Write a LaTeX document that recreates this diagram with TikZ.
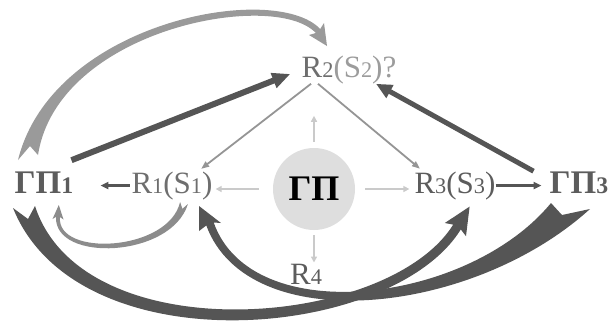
\documentclass[tikz,border=0pt]{standalone}
\usepackage{fontspec}
\setmainfont{Liberation Serif}
\usetikzlibrary{arrows.meta}
\definecolor{bandDark}{HTML}{555555}
\definecolor{bandGray}{HTML}{9A9A9A}
\definecolor{loopGray}{HTML}{8C8C8C}
\definecolor{slimGray}{HTML}{959595}
\definecolor{paleGray}{HTML}{CACACA}
\definecolor{discGray}{HTML}{DEDEDE}
\definecolor{txtDark}{HTML}{5C5C5C}
\definecolor{txtMid}{HTML}{6E6E6E}
\definecolor{txtLight}{HTML}{9C9C9C}
\newcommand{\ix}[1]{\scalebox{0.72}{#1}}

\begin{document}
\begin{tikzpicture}[x=1pt, y=-1pt,
    lbl/.style={inner sep=0pt, anchor=base, font=\fontsize{31}{36}\selectfont},
    bigtxt/.style={lbl, font=\fontsize{33}{38}\selectfont\bfseries},
    palearrow/.style={draw=paleGray, line width=2pt, -{Triangle[length=6pt,width=6pt]}},
    slimarrow/.style={draw=slimGray, line width=1.8pt, -{Triangle[length=8pt,width=6pt]}},
    heavyarrow/.style={draw=bandDark, -{Triangle[length=18pt,width=15pt]}},
    stubarrow/.style={draw=bandDark, line width=2.5pt, -{Triangle[length=8pt,width=7pt]}}]
    \useasboundingbox (0,0) rectangle (611,325);

    % tapered bands
    \fill[bandGray] (18,160) .. controls (52.4,21.3) and (275.1,-19) .. (320.2,29)
        -- (324,23) -- (327,46) -- (309,35) -- (315.8,33)
        .. controls (274.9,-11) and (57.6,28.7) .. (38,155) -- (30,146) -- cycle;
    \fill[loopGray] (187.9,204) .. controls (171.4,258.2) and (54,262.8) .. (56,216.9)
        -- (52.5,219) -- (58.8,205) -- (63.5,219.5) -- (60,217.1)
        .. controls (56,257.2) and (168.6,251.8) .. (180.1,202) -- (182.4,208.8) -- cycle;
    \fill[bandDark] (13,208) .. controls (77.4,367.6) and (392,340.7) .. (460.8,229.4)
        -- (466,236.2) -- (469.6,206.6) -- (444.8,223) -- (453.2,224.6)
        .. controls (388,329.3) and (82.6,352.4) .. (35,206) -- (28,219) -- cycle;
    \fill[bandDark] (590,209) .. controls (472,316) and (248.4,339) .. (206.3,225.5)
        -- (199,231) -- (199,206) -- (221,223) -- (213.7,222.5)
        .. controls (251.6,330) and (468,304) .. (551,203) -- (562,215) -- cycle;

    \node[bigtxt, text=txtDark] (G1) at (44,193) {ГП\ix{1}};
    \node[lbl, text=txtMid] (R1) at (172,193) {R\ix{1}(S\ix{1})};
    \node[lbl] (R2) at (349,77) {\textcolor{txtMid}{R\ix{2}}\textcolor{txtLight}{(S\ix{2})?}};
    \node[lbl, text=txtDark] (R3) at (455,193) {R\ix{3}(S\ix{3})};
    \node[bigtxt, text=txtDark] (G3) at (579,193) {ГП\ix{3}};
    \node[lbl, text=txtDark] (R4) at (306,284) {R\ix{4}};
    \node[circle, fill=discGray, minimum size=82pt, inner sep=0pt,
          font=\fontsize{36}{40}\selectfont\bfseries] (GP) at (314,189) {ГП};

    % straight arrows
    \draw[heavyarrow, line width=6pt, shorten >=12pt] ([xshift=-2pt,yshift=11pt]G1.north east) -- (R2.west);
    \draw[heavyarrow, line width=5pt, -{Triangle[length=16pt,width=14pt]}] ([xshift=-16pt]G3.north west) -- ([xshift=27pt]R2.south);
    \draw[slimarrow, shorten >=4pt] ([xshift=-38pt]R2.south) -- ([xshift=26pt]R1.north);
    \draw[slimarrow, shorten >=4pt] ([xshift=-31pt]R2.south) -- ([xshift=-32pt]R3.north);
    \draw[stubarrow, shorten <=1.5pt, shorten >=27pt] (R1.west) -- (R1.west -| G1.east);
    \draw[stubarrow, shorten >=8pt] (R3.east) -- (R3.east -| G3.west);

    \draw[palearrow, shorten <=6pt, shorten >=32pt] (GP.north) -- (GP.north |- R2.south);
    \draw[palearrow, shorten <=14pt, shorten >=3pt] (GP.west) -- (GP.west -| R1.east);
    \draw[palearrow, shorten <=10pt, shorten >=5pt] (GP.east) -- (GP.east -| R3.west);
    \draw[palearrow, shorten <=5pt, shorten >=1pt] (GP.south) -- (GP.south |- R4.north);
\end{tikzpicture}
\end{document}
